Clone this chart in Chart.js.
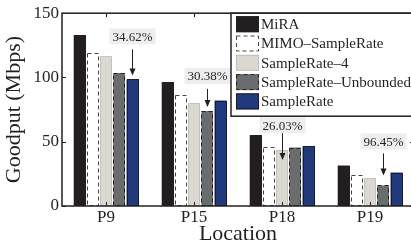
<!DOCTYPE html>
<html>
<head>
<meta charset="utf-8">
<script src="https://cdn.jsdelivr.net/npm/chart.js@4.4.1/dist/chart.umd.min.js"></script>
<style>
    html, body { margin: 0; padding: 0; background: #fff; overflow: hidden; }
    #wrap { width: 416px; height: 247px; position: relative; }
</style>
</head>
<body>
<div id="wrap"><canvas id="goodputChart"></canvas></div>
<script>
const locations = ['P9', 'P15', 'P18', 'P19'];
const seriesNames = ['MiRA', 'MIMO\u2013SampleRate', 'SampleRate\u20134', 'SampleRate\u2013Unbounded', 'SampleRate'];
const mira = [133, 96.5, 55, 31.5];
const mimoSampleRate = [119, 86.5, 46, 24.5];
const sampleRate4 = [116.5, 80, 43.5, 21.5];
const sampleRateUnbounded = [103.5, 74, 45.5, 16];
const sampleRate = [98.5, 82, 46.5, 26];
const yTicks = [0, 50, 100, 150];

// gain labels: text, which series, which location
const gainText = ['34.62%', '30.38%', '26.03%', '96.45%'];
const gainSeries = [4, 3, 2, 3];
const gainCat = [0, 1, 2, 3];
// label/arrow placement above the bar top (px)
const gainLabelLift = [43, 35, 25, 44];
const gainArrowFrom = [30, 22, 17, 32];
const gainArrowTo = [4, 4, -10, 10];

const ink = '#231f20';
const font = 'Liberation Serif, Times New Roman, serif';

const styles = [
    { fill: '#231f20', line: '#231f20', dash: [] },
    { fill: '#ffffff', line: '#444444', dash: [4, 3] },
    { fill: '#dbd7d1', line: '#a9a6a2', dash: [1, 1] },
    { fill: '#6b6c6e', line: '#222222', dash: [4, 3] },
    { fill: '#213a7c', line: '#1a1a2a', dash: [] }
];
const values = [mira, mimoSampleRate, sampleRate4, sampleRateUnbounded, sampleRate];

const outlinePlugin = {
    id: 'outlines',
    afterDatasetsDraw(chart) {
        const ctx = chart.ctx;
        ctx.save();
        chart.data.datasets.forEach((ds, i) => {
            const st = styles[i];
            chart.getDatasetMeta(i).data.forEach(el => {
                const p = el.getProps(['x', 'y', 'base', 'width'], true);
                ctx.strokeStyle = st.line;
                ctx.lineWidth = 1;
                ctx.setLineDash(st.dash);
                ctx.strokeRect(Math.round(p.x - p.width / 2) + 0.5, Math.round(p.y) + 0.5,
                    Math.round(p.width) - 1, Math.round(p.base - p.y) - 1);
            });
        });
        ctx.restore();
    }
};

const framePlugin = {
    id: 'frame',
    afterDraw(chart) {
        const ctx = chart.ctx;
        const a = chart.chartArea;
        const ys = chart.scales.y, xs = chart.scales.x;
        ctx.save();
        ctx.strokeStyle = ink;
        ctx.lineWidth = 1.5;
        ctx.setLineDash([]);
        ctx.strokeRect(a.left, a.top, a.right - a.left, a.bottom - a.top);
        ctx.lineWidth = 1;
        ctx.beginPath();
        yTicks.forEach(v => {
            const y = Math.round(ys.getPixelForValue(v)) + 0.5;
            ctx.moveTo(a.left, y); ctx.lineTo(a.left + 4, y);
            ctx.moveTo(a.right, y); ctx.lineTo(a.right - 4, y);
        });
        locations.forEach((c, i) => {
            const x = Math.round(xs.getPixelForValue(i)) + 0.5;
            ctx.moveTo(x, a.top); ctx.lineTo(x, a.top + 4);
            ctx.moveTo(x, a.bottom); ctx.lineTo(x, a.bottom - 4);
        });
        ctx.stroke();

        // gain annotations
        ctx.font = '13px ' + font;
        ctx.textAlign = 'center';
        ctx.textBaseline = 'middle';
        gainText.forEach((t, k) => {
            const el = chart.getDatasetMeta(gainSeries[k]).data[gainCat[k]];
            const x = Math.round(el.x) + 0.5;
            const top = el.y;
            const ty = top - gainLabelLift[k];
            const w = ctx.measureText(t).width + 6;
            ctx.fillStyle = '#eceeef';
            ctx.fillRect(x - w / 2, ty - 8, w, 16);
            ctx.fillStyle = ink;
            ctx.fillText(t, x, ty + 1);
            const y0 = top - gainArrowFrom[k], y1 = top - gainArrowTo[k];
            ctx.strokeStyle = ink;
            ctx.beginPath();
            ctx.moveTo(x, y0); ctx.lineTo(x, y1 - 5);
            ctx.stroke();
            ctx.beginPath();
            ctx.moveTo(x - 3, y1 - 7); ctx.lineTo(x, y1); ctx.lineTo(x + 3, y1 - 7); ctx.closePath();
            ctx.fill();
        });

        // legend box in the upper right
        const lx = 231, ly = a.top, lw = 200, lh = 103;
        ctx.fillStyle = '#ffffff';
        ctx.fillRect(lx, ly, lw, lh);
        ctx.strokeStyle = ink;
        ctx.lineWidth = 1.5;
        ctx.strokeRect(lx, ly, lw, lh);
        ctx.font = '15px ' + font;
        ctx.textAlign = 'left';
        seriesNames.forEach((name, i) => {
            const cy = ly + 11 + i * 19.3;
            const st = styles[i];
            ctx.fillStyle = st.fill;
            ctx.fillRect(236, cy - 8, 23, 16);
            ctx.strokeStyle = st.line;
            ctx.lineWidth = 1;
            ctx.setLineDash(st.dash);
            ctx.strokeRect(236.5, cy - 7.5, 22, 15);
            ctx.setLineDash([]);
            ctx.fillStyle = ink;
            ctx.fillText(name, 261, cy + 1);
        });
        ctx.restore();
    }
};

new Chart(document.getElementById('goodputChart'), {
    type: 'bar',
    data: {
        labels: locations,
        datasets: seriesNames.map((name, i) => ({
            label: name,
            data: values[i],
            backgroundColor: styles[i].fill,
            borderWidth: 0,
            categoryPercentage: 0.75,
            barPercentage: 0.89
        }))
    },
    options: {
        responsive: true,
        maintainAspectRatio: false,
        animation: false,
        layout: { padding: { top: 12, right: 2, left: 0, bottom: 0 } },
        plugins: { legend: { display: false }, tooltip: { enabled: false } },
        scales: {
            x: {
                grid: { display: false, drawTicks: false },
                border: { display: false },
                ticks: { color: ink, font: { family: font, size: 17 }, padding: 1 },
                title: { display: true, text: 'Location', color: ink, font: { family: font, size: 22 }, padding: { top: 0, bottom: 0 } },
                afterFit(scale) { scale.height = 41; }
            },
            y: {
                min: 0,
                max: 150,
                grid: { display: false, drawTicks: false },
                border: { display: false },
                afterBuildTicks(scale) { scale.ticks = yTicks.map(v => ({ value: v })); },
                ticks: { color: ink, font: { family: font, size: 17 }, padding: 3 },
                title: { display: true, text: 'Goodput (Mbps)', color: ink, font: { family: font, size: 22 }, padding: { top: 1, bottom: 0 } },
                afterFit(scale) { scale.width = 62; }
            }
        }
    },
    plugins: [outlinePlugin, framePlugin]
});
</script>
</body>
</html>
